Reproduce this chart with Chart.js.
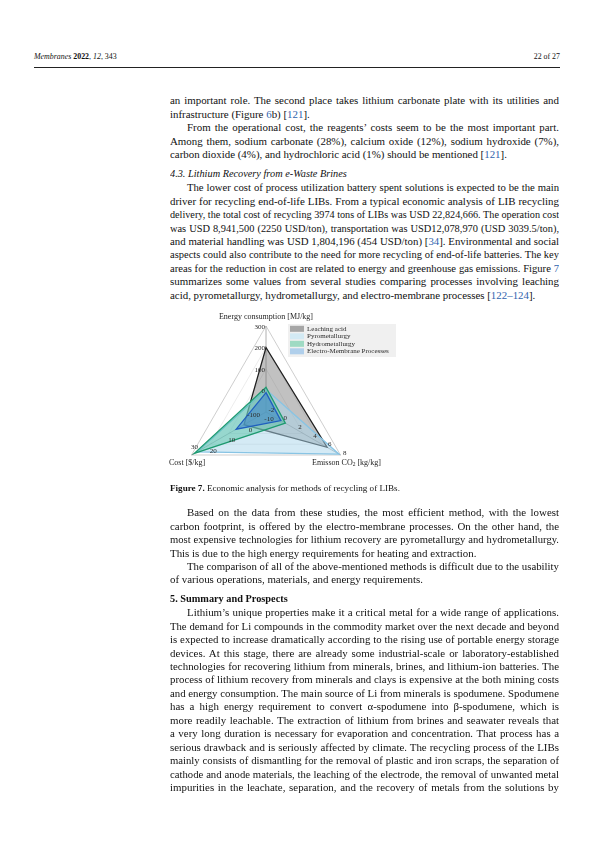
<!DOCTYPE html>
<html lang="en">
<head>
<meta charset="UTF-8">
<title>Membranes 2022, 12, 343 - 22 of 27</title>
<script src="https://cdn.jsdelivr.net/npm/chart.js"></script>
<style>
  body { margin: 0; background: #fff; }
  #page { position: relative; width: 595px; height: 842px; font-family: "Liberation Serif", serif; color: #111; }
  .hdr { position: absolute; top: 52px; font-size: 7.9px; line-height: 10px; }
  .rule { position: absolute; left: 34px; width: 526px; top: 67px; border-top: 1px solid #222; }
  .blk { position: absolute; left: 170px; width: 389px; font-size: 10.9px; line-height: 13.45px; }
  .ln { height: 13.45px; overflow: hidden; text-align: justify; text-align-last: justify; }
  .ln.l { text-align-last: left; }
  .ln.i { text-indent: 17px; }
  .hd { font-size: 10.3px; }
  .ref { color: #2f63ad; }
  .cap { position: absolute; left: 170px; top: 482px; font-size: 9.1px; line-height: 12px; }
  #chart { position: absolute; left: 160px; top: 305px; }
</style>
</head>
<body>
<div id="page">
  <div class="hdr" style="left:34px"><i>Membranes</i> <b>2022</b>, <i>12</i>, 343</div>
  <div class="hdr" style="right:35px">22 of 27</div>
  <div class="rule"></div>

  <div class="blk" style="top:94.3px">
    <div class="ln">an important role. The second place takes lithium carbonate plate with its utilities and</div>
    <div class="ln l">infrastructure (Figure <span class="ref">6</span>b) [<span class="ref">121</span>].</div>
    <div class="ln i">From the operational cost, the reagents’ costs seem to be the most important part.</div>
    <div class="ln">Among them, sodium carbonate (28%), calcium oxide (12%), sodium hydroxide (7%),</div>
    <div class="ln l">carbon dioxide (4%), and hydrochloric acid (1%) should be mentioned [<span class="ref">121</span>].</div>
  </div>

  <div class="blk hd" style="top:167.3px"><div class="ln l"><i>4.3. Lithium Recovery from e-Waste Brines</i></div></div>

  <div class="blk" style="top:181.3px">
    <div class="ln i">The lower cost of process utilization battery spent solutions is expected to be the main</div>
    <div class="ln">driver for recycling end-of-life LIBs. From a typical economic analysis of LIB recycling</div>
    <div class="ln">delivery, the total cost of recycling 3974 tons of LIBs was USD 22,824,666. The operation cost</div>
    <div class="ln">was USD 8,941,500 (2250 USD/ton), transportation was USD12,078,970 (USD 3039.5/ton),</div>
    <div class="ln">and material handling was USD 1,804,196 (454 USD/ton) [<span class="ref">34</span>]. Environmental and social</div>
    <div class="ln">aspects could also contribute to the need for more recycling of end-of-life batteries. The key</div>
    <div class="ln">areas for the reduction in cost are related to energy and greenhouse gas emissions. Figure&nbsp;<span class="ref">7</span></div>
    <div class="ln">summarizes some values from several studies comparing processes involving leaching</div>
    <div class="ln l">acid, pyrometallurgy, hydrometallurgy, and electro-membrane processes [<span class="ref">122–124</span>].</div>
  </div>

  <canvas id="chart" width="250" height="200"></canvas>

  <div class="cap"><b>Figure 7.</b> Economic analysis for methods of recycling of LIBs.</div>

  <div class="blk" style="top:506.3px">
    <div class="ln i">Based on the data from these studies, the most efficient method, with the lowest</div>
    <div class="ln">carbon footprint, is offered by the electro-membrane processes. On the other hand, the</div>
    <div class="ln">most expensive technologies for lithium recovery are pyrometallurgy and hydrometallurgy.</div>
    <div class="ln l">This is due to the high energy requirements for heating and extraction.</div>
    <div class="ln i">The comparison of all of the above-mentioned methods is difficult due to the usability</div>
    <div class="ln l">of various operations, materials, and energy requirements.</div>
  </div>

  <div class="blk hd" style="top:592.3px"><div class="ln l"><b>5. Summary and Prospects</b></div></div>

  <div class="blk" style="top:606.3px">
    <div class="ln i">Lithium’s unique properties make it a critical metal for a wide range of applications.</div>
    <div class="ln">The demand for Li compounds in the commodity market over the next decade and beyond</div>
    <div class="ln">is expected to increase dramatically according to the rising use of portable energy storage</div>
    <div class="ln">devices. At this stage, there are already some industrial-scale or laboratory-established</div>
    <div class="ln">technologies for recovering lithium from minerals, brines, and lithium-ion batteries. The</div>
    <div class="ln">process of lithium recovery from minerals and clays is expensive at the both mining costs</div>
    <div class="ln">and energy consumption. The main source of Li from minerals is spodumene. Spodumene</div>
    <div class="ln">has a high energy requirement to convert α-spodumene into β-spodumene, which is</div>
    <div class="ln">more readily leachable. The extraction of lithium from brines and seawater reveals that</div>
    <div class="ln">a very long duration is necessary for evaporation and concentration. That process has a</div>
    <div class="ln">serious drawback and is seriously affected by climate. The recycling process of the LIBs</div>
    <div class="ln">mainly consists of dismantling for the removal of plastic and iron scraps, the separation of</div>
    <div class="ln">cathode and anode materials, the leaching of the electrode, the removal of unwanted metal</div>
    <div class="ln">impurities in the leachate, separation, and the recovery of metals from the solutions by</div>
  </div>
</div>

<script>
// axes of the radar, in drawing order (top, lower right, lower left)
var axisTitles = ['Energy consumption [MJ/kg]', 'Emisson CO2 [kg/kg]', 'Cost [$/kg]'];
var energyTicks = [-100, 0, 100, 200, 300];
var emissionTicks = [-2, 0, 2, 4, 6, 8];
var costTicks = [-10, 0, 10, 20, 30];
var axisTicks = [energyTicks, emissionTicks, costTicks];

// values per method: [energy, emission, cost]
var methods = ['Leaching acid', 'Pyrometallurgy', 'Hydrometallurgy', 'Electro-Membrane Processes'];
var leachingAcid = [200, 6.2, 1.8];
var pyrometallurgy = [5, 7.8, 27];
var hydrometallurgy = [15, 0.6, 28.5];
var electroMembrane = [-10, 0, 6];

var fills = ['rgba(100,100,100,0.4)', 'rgba(170,214,236,0.5)', 'rgba(60,188,150,0.4)', 'rgba(55,125,205,0.5)'];
var borders = ['#1f1f1f', '#88c4e4', '#1e9a70', '#1f5fbf'];
var swatches = ['#a6a6a6', '#d3eaf4', '#9fdac3', '#b0cfeb'];
var drawOrder = [4, 3, 2, 1];

// every axis has its own range, so the values are put on a 0..1 scale
function norm(values) {
    return values.map(function (v, i) {
        var t = axisTicks[i];
        return (v - t[0]) / (t[t.length - 1] - t[0]);
    });
}

var series = [leachingAcid, pyrometallurgy, hydrometallurgy, electroMembrane];
var datasets = series.map(function (s, k) {
    return {
        label: methods[k],
        data: norm(s),
        fill: true,
        order: drawOrder[k],
        backgroundColor: fills[k],
        borderColor: borders[k],
        borderWidth: 1.3,
        pointRadius: 0
    };
});

// tick labels, axis titles and legend
var axisText = {
    id: 'axisText',
    afterDraw: function (chart) {
        var s = chart.scales.r, c = chart.ctx;
        var cx = s.xCenter, cy = s.yCenter, R = s.drawingArea;
        c.save();
        c.fillStyle = '#2a2a2a';
        c.font = '7px "Liberation Serif"';
        c.textBaseline = 'middle';
        axisTicks.forEach(function (ticks, i) {
            var lo = ticks[0], hi = ticks[ticks.length - 1];
            ticks.forEach(function (t, k) {
                var p = s.getPointPositionForValue(i, (t - lo) / (hi - lo));
                if (i === 0) {
                    c.textAlign = 'right';
                    var dx = (k === 0) ? -6 : -1;
                    c.fillText(String(t), p.x + dx, p.y + (k === 0 ? 3 : 1));
                } else if (i === 1) {
                    c.textAlign = 'left';
                    c.fillText(String(t), p.x + 2.5, p.y - 2);
                } else {
                    c.textAlign = 'center';
                    var dy = (k === ticks.length - 1) ? -8 : 7;
                    c.fillText(String(t), p.x + 3, p.y + dy);
                }
            });
        });

        // axis titles
        c.fillStyle = '#1e1e1e';
        c.font = '8px "Liberation Serif"';
        c.textAlign = 'center';
        c.fillText(axisTitles[0], cx, cy - R - 9);
        c.textAlign = 'left';
        c.fillText(axisTitles[2], cx - 97, cy + 51);
        var ex = cx + 46, ey = cy + 51;
        var head = 'Emisson CO';
        c.fillText(head, ex, ey);
        ex += c.measureText(head).width;
        c.font = '5.5px "Liberation Serif"';
        c.fillText('2', ex, ey + 2);
        ex += c.measureText('2').width;
        c.font = '8px "Liberation Serif"';
        c.fillText(' [kg/kg]', ex, ey);

        // legend
        var lx = cx + 22, ly = cy - 88;
        c.fillStyle = '#f0f0f0';
        c.fillRect(lx, ly, 108, 33);
        c.font = '7px "Liberation Serif"';
        methods.forEach(function (m, k) {
            var ry = ly + 4.8 + k * 7.5;
            c.fillStyle = swatches[k];
            c.fillRect(lx + 2, ry - 3, 14, 6);
            c.fillStyle = '#2a2a2a';
            c.fillText(m, lx + 19, ry);
        });
        c.restore();
    }
};

new Chart(document.getElementById('chart'), {
    type: 'radar',
    data: { labels: axisTitles, datasets: datasets },
    options: {
        responsive: false,
        animation: false,
        layout: { padding: { left: 20, top: 21, right: 58, bottom: 7 } },
        plugins: { legend: { display: false }, tooltip: { enabled: false } },
        elements: { line: { tension: 0 } },
        scales: {
            r: {
                min: 0,
                max: 1,
                ticks: { display: false, stepSize: 0.25 },
                pointLabels: { display: false },
                grid: {
                    color: function (ctx) { return ctx.index === 4 ? '#b9b9b9' : '#e4e4e4'; },
                    lineWidth: 0.7
                },
                angleLines: { color: '#9c9c9c', lineWidth: 0.8 }
            }
        }
    },
    plugins: [axisText]
});

// keep each printed line on one row: shrink the font a little while it wraps
document.querySelectorAll('.ln').forEach(function (el) {
    var fs = parseFloat(getComputedStyle(el).fontSize);
    while (el.scrollHeight > 14.5 && fs > 8) {
        fs -= 0.1;
        el.style.fontSize = fs + 'px';
    }
});
</script>
</body>
</html>
